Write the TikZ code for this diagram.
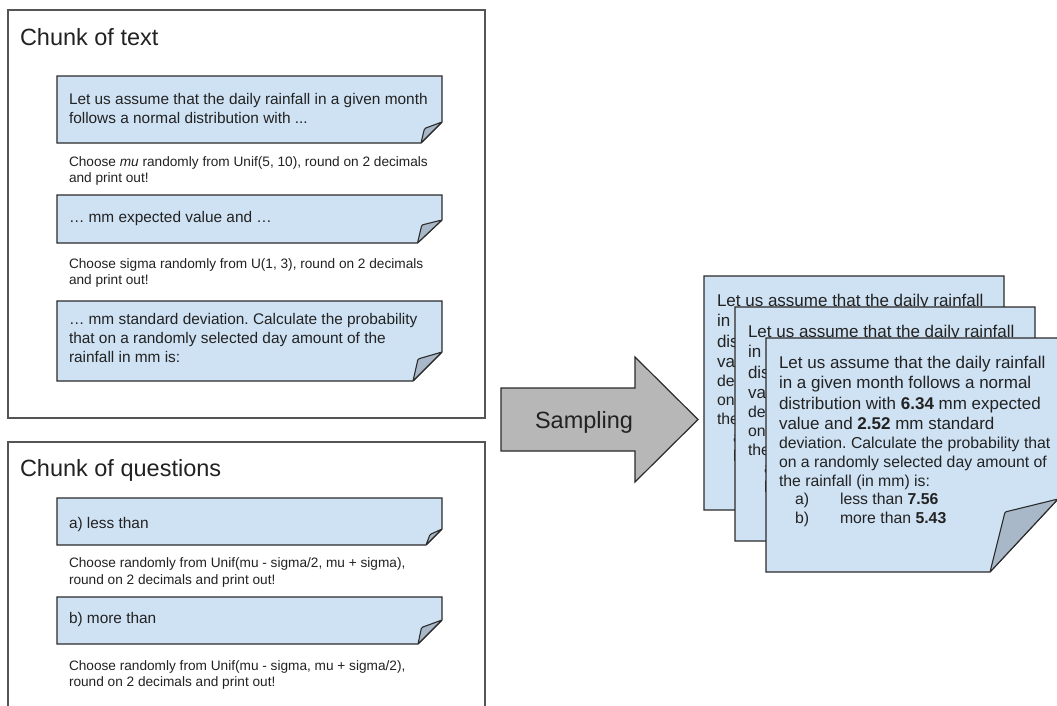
\documentclass[tikz,border=0pt]{standalone}
\usepackage{fontspec}
\setmainfont{Liberation Sans}
\frenchspacing

\definecolor{notefill}{HTML}{CFE2F3}
\definecolor{flapfill}{HTML}{A9B8C8}
\definecolor{arrowfill}{HTML}{B7B7B7}
\definecolor{edge}{HTML}{2B2B2B}
\definecolor{framecol}{HTML}{555555}
\definecolor{ink}{HTML}{222222}

\tikzset{
  framebox/.style={draw=framecol, line width=1.5pt},
  notebody/.style={fill=notefill, draw=edge, line width=1.2pt, line join=miter},
  flap/.style={fill=flapfill, draw=edge, line width=1.1pt, line join=round, rounded corners=1.2pt},
  txt/.style={anchor=base west, inner sep=0pt, outer sep=0pt, text=ink},
  title/.style={txt, font=\fontsize{23.5}{28}\selectfont},
  notetxt/.style={txt, font=\fontsize{15.4}{19}\selectfont},
  hint/.style={txt, font=\fontsize{13.65}{16}\selectfont},
  bigtxt/.style={txt, font=\fontsize{17}{20}\selectfont},
  smalltxt/.style={txt, font=\fontsize{15.8}{19}\selectfont},
  arrowbody/.style={fill=arrowfill, draw=edge, line width=1.2pt, line join=miter},
}

% a sheet with a folded bottom-right corner:
% #1 name, #2 left, #3 top, #4 right, #5 bottom, #6 fold width, #7 fold height,
% #8/#9 offset of the flap tip from the lower end of the fold
\newcommand\foldsheet[9]{%
  \path[notebody] (#2,#3) coordinate (#1-nw) -- (#4,#3) -- (#4,{#5-#7})
    -- ({#4-#6},#5) -- (#2,#5) -- cycle;
  \path[flap] ({#4-#6},#5) -- ({#4-#6+#8},{#5-#9}) -- (#4,{#5-#7}) -- cycle;
}

% the generated exercise printed on a sheet whose top-left corner is (#2,#3)
\newcommand\exercisetext[3]{%
  \node[bigtxt] (#1-l1) at ({#2+13},{#3+30}) {Let us assume that the daily rainfall};
  \node[bigtxt] (#1-l2) at ({#2+13},{#3+50.5}) {in a given month follows a normal};
  \node[bigtxt] (#1-l3) at ({#2+13},{#3+71}) {distribution with \textbf{6.34} mm expected};
  \node[bigtxt] (#1-l4) at ({#2+13},{#3+91}) {value and \textbf{2.52} mm standard};
  \node[smalltxt] (#1-l5) at ({#2+13},{#3+110.5}) {deviation. Calculate the probability that};
  \node[smalltxt] (#1-l6) at ({#2+13},{#3+129.5}) {on a randomly selected day amount of};
  \node[smalltxt] (#1-l7) at ({#2+13},{#3+148.5}) {the rainfall (in mm) is:};
  \node[smalltxt] (#1-qa) at ({#2+29},{#3+166.5}) {a)};
  \node[smalltxt] (#1-ta) at ({#2+74},{#3+166.5}) {less than \textbf{7.56}};
  \node[smalltxt] (#1-qb) at ({#2+29},{#3+185.5}) {b)};
  \node[smalltxt] (#1-tb) at ({#2+74},{#3+185.5}) {more than \textbf{5.43}};
}

\begin{document}
\begin{tikzpicture}[x=1pt, y=-1pt]
  \useasboundingbox (0,0) rectangle (1057,705);
  \clip (0,0) rectangle (1057,705);
  \fill[white] (0,0) rectangle (1057,705);

  % ---- chunk of text ----
  \draw[framebox] (8,10) rectangle (485,418);
  \node[title] (t1) at (20,45) {Chunk of text};

  \foldsheet{n1}{57}{76}{442}{143}{21}{21}{3.5}{14.5}
  \node[notetxt] (n1a) at (69,104.3) {Let us assume that the daily rainfall in a given month};
  \node[notetxt] (n1b) at (69,123.5) {follows a normal distribution with ...};
  \node[hint] (h1a) at (69,166.5) {Choose \textit{mu} randomly from Unif(5, 10), round on 2 decimals};
  \node[hint] (h1b) at (69,182.5) {and print out!};

  \foldsheet{n2}{57}{195}{442}{243}{24.5}{23}{4.3}{18}
  \node[notetxt] (n2a) at (69,222) {… mm expected value and …};
  \node[hint] (h2a) at (69,268) {Choose sigma randomly from U(1, 3), round on 2 decimals};
  \node[hint] (h2b) at (69,284.5) {and print out!};

  \foldsheet{n3}{57}{301}{442}{381}{29}{29}{5}{22}
  \node[notetxt] (n3a) at (69,324) {… mm standard deviation. Calculate the probability};
  \node[notetxt] (n3b) at (69,343) {that on a randomly selected day amount of the};
  \node[notetxt] (n3c) at (69,362) {rainfall in mm is:};

  % ---- chunk of questions ----
  \draw[framebox] (8,442) rectangle (485,740);
  \node[title] (t2) at (20,476) {Chunk of questions};

  \foldsheet{qa}{57}{498}{442}{545}{16}{16}{4}{10.5}
  \node[notetxt] (qat) at (69,528) {a) less than};
  \node[hint] (hqa1) at (69,567) {Choose randomly from Unif(mu - sigma/2, mu + sigma),};
  \node[hint] (hqa2) at (69,584) {round on 2 decimals and print out!};

  \foldsheet{qb}{57}{597}{442}{644}{24}{24}{3.5}{16.5}
  \node[notetxt] (qbt) at (69,623) {b) more than};
  \node[hint] (hqb1) at (69,670) {Choose randomly from Unif(mu - sigma, mu + sigma/2),};
  \node[hint] (hqb2) at (69,686) {round on 2 decimals and print out!};

  % ---- sampling arrow ----
  \path[arrowbody] (501,388) -- (635,388) -- (635,357) -- (698,419.5)
    -- (635,482) -- (635,451) -- (501,451) -- cycle;
  \node[anchor=base, inner sep=0pt, text=ink, font=\fontsize{23.5}{28}\selectfont]
    (samp) at (584,428.5) {Sampling};

  % ---- stack of generated exercises ----
  \foldsheet{s1}{704}{276}{1004}{510}{68}{73}{15}{60}
  \exercisetext{s1}{704}{276}
  \foldsheet{s2}{735}{307}{1035}{541}{68}{73}{15}{60}
  \exercisetext{s2}{735}{307}
  \foldsheet{s3}{766}{338}{1058}{572}{68}{73}{15}{60}
  \exercisetext{s3}{766}{338}
\end{tikzpicture}
\end{document}
